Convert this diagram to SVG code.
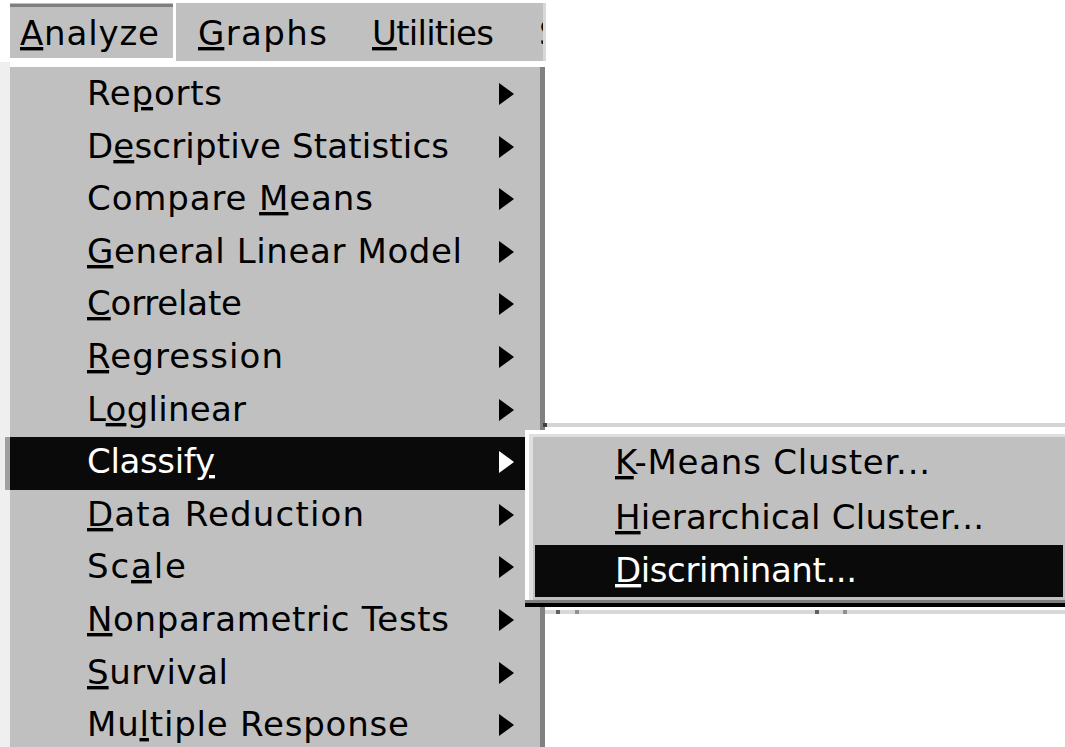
<svg xmlns="http://www.w3.org/2000/svg" xmlns:xlink="http://www.w3.org/1999/xlink" width="1065" height="747" viewBox="0 0 1065 747">
<style>
text{font-family:"DejaVu Sans","Liberation Sans",sans-serif;font-size:34px;fill:#000}
.w{fill:#fff}
.u{text-decoration:underline}
.arr{fill:#000}
.arrw{fill:#fff}
</style>
<defs>
<path id="arr" d="M0,-11 L15,0 L0,11Z"/>
<clipPath id="barclip"><rect x="10" y="3" width="533" height="59"/></clipPath>
</defs>
<rect x="0" y="0" width="1065" height="747" fill="#fff"/>
<g id="menubar">
<rect x="10" y="3" width="163" height="55" fill="#c0c0c0"/>
<rect x="10" y="4" width="163" height="3" fill="#7f7f7f"/>
<rect x="176" y="3" width="367" height="58" fill="#c0c0c0"/>
<rect x="543" y="3" width="3" height="58" fill="#d8d8d8"/>
<g clip-path="url(#barclip)">
<text x="20" y="45" textLength="139"><tspan class="u">A</tspan>nalyze</text>
<text x="198" y="45" textLength="129"><tspan class="u">G</tspan>raphs</text>
<text x="372" y="45" textLength="122"><tspan class="u">U</tspan>tilities</text>
<text x="539" y="45">S</text>
</g>
</g>
<g id="menu">
<rect x="0" y="62" width="10" height="685" fill="#efefef"/>
<rect x="10" y="67" width="530" height="680" fill="#c0c0c0"/>
<rect x="540" y="67" width="5" height="680" fill="#808080"/>
<rect x="5" y="437" width="5" height="53" fill="#a0a0a0"/>
<rect x="10" y="437" width="515" height="53" fill="#0a0a0a"/>
<g id="item-reports"><text x="87" y="105" textLength="135">Re<tspan class="u">p</tspan>orts</text><use href="#arr" x="499" y="94" class="arr"/></g>
<g id="item-descriptive"><text x="87" y="158" textLength="362">D<tspan class="u">e</tspan>scriptive Statistics</text><use href="#arr" x="499" y="147" class="arr"/></g>
<g id="item-compare"><text x="87" y="210" textLength="286">Compare <tspan class="u">M</tspan>eans</text><use href="#arr" x="499" y="199" class="arr"/></g>
<g id="item-glm"><text x="87" y="263" textLength="375"><tspan class="u">G</tspan>eneral Linear Model</text><use href="#arr" x="499" y="252" class="arr"/></g>
<g id="item-correlate"><text x="87" y="315" textLength="155"><tspan class="u">C</tspan>orrelate</text><use href="#arr" x="499" y="304" class="arr"/></g>
<g id="item-regression"><text x="87" y="368" textLength="196"><tspan class="u">R</tspan>egression</text><use href="#arr" x="499" y="357" class="arr"/></g>
<g id="item-loglinear"><text x="87" y="421" textLength="159">L<tspan class="u">o</tspan>glinear</text><use href="#arr" x="499" y="410" class="arr"/></g>
<g id="item-classify"><text x="87" y="473" class="w" textLength="128">Classif<tspan class="u w">y</tspan></text><use href="#arr" x="499" y="462" class="arrw"/></g>
<g id="item-datareduction"><text x="87" y="526" textLength="277"><tspan class="u">D</tspan>ata Reduction</text><use href="#arr" x="499" y="515" class="arr"/></g>
<g id="item-scale"><text x="87" y="578" textLength="99">Sc<tspan class="u">a</tspan>le</text><use href="#arr" x="499" y="567" class="arr"/></g>
<g id="item-nonparametric"><text x="87" y="631" textLength="362"><tspan class="u">N</tspan>onparametric Tests</text><use href="#arr" x="499" y="620" class="arr"/></g>
<g id="item-survival"><text x="87" y="684" textLength="141"><tspan class="u">S</tspan>urvival</text><use href="#arr" x="499" y="673" class="arr"/></g>
<g id="item-multiple"><text x="87" y="736" textLength="322">Mu<tspan class="u">l</tspan>tiple Response</text><use href="#arr" x="499" y="725" class="arr"/></g>
</g>
<g id="behind">
<rect x="545" y="423" width="520" height="4" fill="#d4d4d4"/>
<rect x="543" y="423" width="4" height="4" fill="#404040"/>
<rect x="545" y="610" width="520" height="4" fill="#d8d8d8"/>
<rect x="556" y="610" width="4" height="4" fill="#606060"/>
<rect x="575" y="610" width="4" height="4" fill="#909090"/>
<rect x="815" y="610" width="4" height="4" fill="#606060"/>
<rect x="843" y="610" width="4" height="4" fill="#909090"/>
</g>
<g id="submenu">
<rect x="525" y="430" width="540" height="177" fill="#fff"/>
<rect x="529" y="434" width="536" height="166" fill="#dfdfdf"/>
<rect x="533" y="437" width="532" height="163" fill="#c0c0c0"/>
<rect x="525" y="600" width="540" height="3" fill="#808080"/>
<rect x="525" y="603" width="540" height="4" fill="#000"/>
<rect x="535" y="545" width="528" height="52" fill="#0a0a0a"/>
<g id="sub-kmeans"><text x="615" y="474" textLength="315"><tspan class="u">K</tspan>-Means Cluster...</text></g>
<g id="sub-hierarchical"><text x="615" y="529" textLength="369"><tspan class="u">H</tspan>ierarchical Cluster...</text></g>
<g id="sub-discriminant"><text x="615" y="582" class="w" textLength="242"><tspan class="u w">D</tspan>iscriminant...</text></g>
</g>
</svg>
